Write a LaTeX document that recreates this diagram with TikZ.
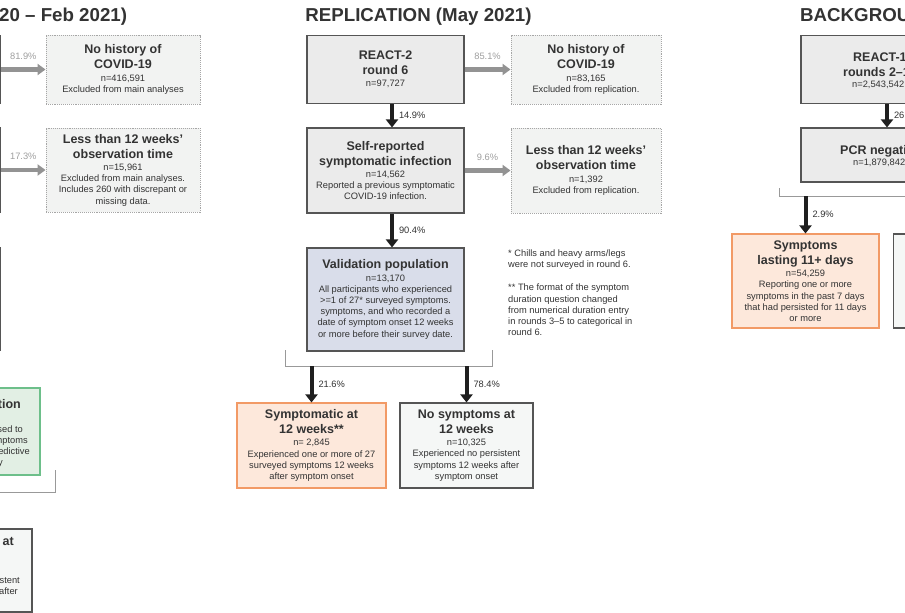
\documentclass[tikz,border=0pt]{standalone}
\usepackage{fontspec}
\setmainfont{Liberation Sans}
\usetikzlibrary{arrows.meta,scopes}
\definecolor{boxGray}{HTML}{EBEBEB}
\definecolor{exclGray}{HTML}{F2F3F2}
\definecolor{valLilac}{HTML}{D9DDEA}
\definecolor{sympPeach}{HTML}{FDE8DB}
\definecolor{sympEdge}{HTML}{F29A66}
\definecolor{noneFill}{HTML}{F5F7F6}
\definecolor{featGreen}{HTML}{E2EFE4}
\definecolor{featEdge}{HTML}{6DBF8A}
\definecolor{edgeDark}{HTML}{555555}
\definecolor{txtDark}{HTML}{333333}
\newcommand\titlefont{\fontsize{18.7}{22}\selectfont\bfseries}
\newcommand\headfont{\fontsize{12.5}{15}\selectfont\bfseries}
\newcommand\bodyfont{\fontsize{9.3}{11.2}\selectfont\lineskiplimit=-20pt\relax}

\begin{document}
\begin{tikzpicture}[x=1pt,y=-1pt,
    mainbox/.style={draw=edgeDark, line width=1.1pt, fill=boxGray, align=center, inner sep=0pt, text=txtDark, font=\bodyfont},
    exclbox/.style={mainbox, draw=gray!70, densely dotted, line width=0.9pt, fill=exclGray},
    titletext/.style={font=\titlefont, text=txtDark, inner sep=0pt},
    fragtext/.style={text=txtDark, inner sep=0pt},
    greyarrow/.style={draw=gray!85, line width=4.5pt, -{Triangle[length=8pt,width=11pt]}},
    darkarrow/.style={draw=black!88, line width=4pt, -{Triangle[length=8pt,width=12pt]}},
    bracketline/.style={draw=gray!80, line width=1pt},
    pctlabel/.style={font=\bodyfont, text=gray!75, inner sep=1pt},
    pctdark/.style={font=\bodyfont, text=txtDark, inner sep=1pt}]
  \useasboundingbox (0,0) rectangle (905,613);
  \clip (0,0) rectangle (905,613);
  \fill[white] (0,0) rectangle (905,613);

  \node[titletext, anchor=base west] (devtitle) at (-1,21.5) {20 – Feb 2021)};
  \node[titletext, anchor=base] (reptitle) at (418.5,21.5) {REPLICATION (May 2021)};
  \node[titletext, anchor=base west] (bgtitle) at (800,21.5) {BACKGROU};

  % development column, cut at the left edge
  \node[mainbox, minimum width=161pt, minimum height=68pt] (devtop) at (-80,69.5) {};
  \node[mainbox, minimum width=161pt, minimum height=84pt] (devsym) at (-80,170) {};
  \node[mainbox, fill=valLilac, minimum width=161pt, minimum height=102pt] (devpop) at (-80,299) {};
  \node[exclbox, minimum width=154pt, minimum height=69pt] (devnohist) at (123,69.5)
    {{\headfont No history of}\\[4pt]{\headfont COVID-19}\\[1pt]n=416,591\\Excluded from main analyses};
  \node[exclbox, minimum width=154pt, minimum height=84pt] (devshort) at (123,170)
    {{\headfont Less than 12 weeks'}\\[4pt]{\headfont observation time}\\[1pt]n=15,961\\Excluded from main analyses.\\Includes 260 with discrepant or\\missing data.};
  \node[mainbox, fill=featGreen, draw=featEdge, minimum width=200pt, minimum height=87pt] (devfeat) at (-60,431.5) {};
  \node[mainbox, fill=noneFill, minimum width=170pt, minimum height=83pt] (devnone) at (-53,570.5) {};
  {[every node/.style={fragtext, anchor=base east}]
    \node[font=\headfont] (featA) at (21,408) {tion};
    \node[font=\bodyfont] (featB) at (23,432) {sed to};
    \node[font=\bodyfont] (featC) at (28,443) {mptoms};
    \node[font=\bodyfont] (featD) at (30,454) {edictive};
    \node[font=\bodyfont] (featE) at (3,465) {y};
    \node[font=\headfont] (noneA) at (14,545) {at};
    \node[font=\bodyfont] (noneB) at (20,583) {stent};
    \node[font=\bodyfont] (noneC) at (18,594) {after};
  }

  % replication column
  \node[mainbox, minimum width=157pt, minimum height=68pt] (reptop) at (385.5,69.5)
    {{\headfont REACT-2}\\[4pt]{\headfont round 6}\\[1pt]n=97,727};
  \node[exclbox, minimum width=150pt, minimum height=69pt] (repnohist) at (586,69.5)
    {{\headfont No history of}\\[4pt]{\headfont COVID-19}\\[1pt]n=83,165\\Excluded from replication.};
  \node[mainbox, minimum width=157pt, minimum height=85pt] (repsym) at (385.5,170.5)
    {{\headfont Self-reported}\\[4pt]{\headfont symptomatic infection}\\[1pt]n=14,562\\Reported a previous symptomatic\\COVID-19 infection.};
  \node[exclbox, minimum width=150pt, minimum height=85pt] (repshort) at (586,170.5)
    {{\headfont Less than 12 weeks'}\\[4pt]{\headfont observation time}\\[1pt]n=1,392\\Excluded from replication.};
  \node[mainbox, fill=valLilac, minimum width=157pt, minimum height=103pt] (reppop) at (385.5,299.5)
    {{\headfont Validation population}\\[1pt]n=13,170\\All participants who experienced\\>=1 of 27* surveyed symptoms.\\symptoms, and who recorded a\\date of symptom onset 12 weeks\\or more before their survey date.};
  \node[mainbox, fill=sympPeach, draw=sympEdge, minimum width=149pt, minimum height=85pt] (reppos) at (311.5,445.5)
    {{\headfont Symptomatic at}\\[4pt]{\headfont 12 weeks**}\\[1pt]n= 2,845\\Experienced one or more of 27\\surveyed symptoms 12 weeks\\after symptom onset};
  \node[mainbox, fill=noneFill, minimum width=133pt, minimum height=85pt] (repneg) at (466.5,445.5)
    {{\headfont No symptoms at}\\[4pt]{\headfont 12 weeks}\\[1pt]n=10,325\\Experienced no persistent\\symptoms 12 weeks after\\symptom onset};
  \node[fragtext, anchor=north west, align=left, font=\fontsize{9.3}{11.3}\selectfont] (repnotes) at (508,249.7)
    {* Chills and heavy arms/legs\\were not surveyed in round 6.\\[11.5pt]** The format of the symptom\\duration question changed\\from numerical duration entry\\in rounds 3–5 to categorical in\\round 6.};

  % background column, cut at the right edge
  \node[mainbox, minimum width=158pt, minimum height=68pt] (bgtop) at (880,69.5) {};
  \node[mainbox, minimum width=158pt, minimum height=54pt] (bgneg) at (880,155) {};
  \node[mainbox, fill=sympPeach, draw=sympEdge, minimum width=147pt, minimum height=94pt] (bglong) at (805.5,281)
    {{\headfont Symptoms}\\[4pt]{\headfont lasting 11+ days}\\[1pt]n=54,259\\Reporting one or more\\symptoms in the past 7 days\\that had persisted for 11 days\\or more};
  \node[mainbox, fill=noneFill, minimum width=147pt, minimum height=94pt] (bgshort) at (967,281) {};
  {[every node/.style={fragtext, anchor=base west}]
    \node[font=\headfont] (bgtopA) at (853,61.5) {REACT-1};
    \node[font=\headfont] (bgtopB) at (843,76.5) {rounds 2–1};
    \node[font=\bodyfont] (bgtopC) at (852,87.5) {n=2,543,542};
    \node[font=\headfont] (bgnegA) at (840,154.5) {PCR negati};
    \node[font=\bodyfont] (bgnegB) at (853,165) {n=1,879,842};
  }

  {[greyarrow]
    \draw (devtop.east) -- node[pctlabel, above=7pt] {81.9\%} (devnohist.west);
    \draw (devsym.east) -- node[pctlabel, above=7pt] {17.3\%} (devshort.west);
    \draw (reptop.east) -- node[pctlabel, above=7pt] {85.1\%} (repnohist.west);
    \draw (repsym.east) -- node[pctlabel, above=7pt] {9.6\%} (repshort.west);
  }

  \coordinate (popL) at (285,350);
  \coordinate (popB) at (285,366);
  \coordinate (popR) at (492,350);
  \coordinate (negL) at (779,188);
  \coordinate (negB) at (779,196);
  \coordinate (negR) at (915,196);
  \coordinate (featR) at (55,470);
  \coordinate (featB) at (55,492);
  \coordinate (featL) at (-20,492);
  {[bracketline]
    \draw (popL) -- (popB) -| (popR);
    \draw (negL) -- (negB) -- (negR);
    \draw (featR) -- (featB) -- (featL);
  }

  {[darkarrow]
    \draw ([xshift=6.5pt]reptop.south) -- node[pctdark, right=4pt] {14.9\%} ([xshift=6.5pt]repsym.north);
    \draw ([xshift=6.5pt]repsym.south) -- node[pctdark, right=4pt] {90.4\%} ([xshift=6.5pt]reppop.north);
    \draw (popB -| reppos.north) -- node[pctdark, right=4pt] {21.6\%} (reppos.north);
    \draw (popB -| repneg.north) -- node[pctdark, right=4pt] {78.4\%} (repneg.north);
    \draw ([xshift=7pt]bgtop.south) -- node[pctdark, right=4pt] {26} ([xshift=7pt]bgneg.north);
    \draw (negB -| bglong.north) -- node[pctdark, right=4pt] {2.9\%} (bglong.north);
  }
\end{tikzpicture}
\end{document}
